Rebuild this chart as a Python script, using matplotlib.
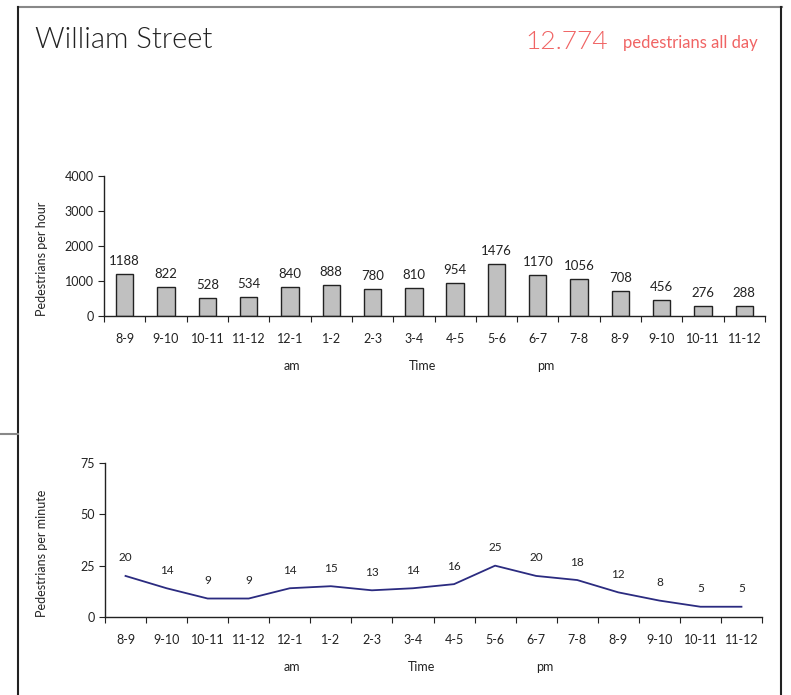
import matplotlib.pyplot as plt
from matplotlib.lines import Line2D

# hourly counts, William Street
hours = ['8-9', '9-10', '10-11', '11-12', '12-1', '1-2', '2-3', '3-4',
         '4-5', '5-6', '6-7', '7-8', '8-9', '9-10', '10-11', '11-12']
per_hour = [1188, 822, 528, 534, 840, 888, 780, 810,
            954, 1476, 1170, 1056, 708, 456, 276, 288]
per_minute = [20, 14, 9, 9, 14, 15, 13, 14,
              16, 25, 20, 18, 12, 8, 5, 5]
hour_ticks = [0, 1000, 2000, 3000, 4000]
minute_ticks = [0, 25, 50, 75]
total_label = '12.774'

plt.rcParams['font.family'] = ['Lato', 'DejaVu Sans']

W, H = 791, 695
fig = plt.figure(figsize=(W / 100, H / 100), dpi=100)

def px_axes(left, top, right, bottom):
    return fig.add_axes([left / W, 1 - bottom / H, (right - left) / W, (bottom - top) / H])

# frame around the panel
fig.add_artist(Line2D([18 / W, 782 / W], [1 - 7 / H, 1 - 7 / H], color='#888888', lw=1.5))
fig.add_artist(Line2D([18 / W, 18 / W], [1 - 7 / H, 0], color='#222222', lw=1.5))
fig.add_artist(Line2D([781 / W, 781 / W], [1 - 7 / H, 0], color='#222222', lw=1.5))
fig.add_artist(Line2D([0, 18 / W], [1 - 434 / H, 1 - 434 / H], color='#888888', lw=1.5))

red = '#f06464'
fig.text(35 / W, 1 - 40 / H, 'William Street', fontsize=21, color='#222222',
         fontweight=300, va='center', ha='left')
fig.text(758 / W, 1 - 43 / H, 'pedestrians all day', fontsize=12, color=red,
         va='center', ha='right')
fig.text(608 / W, 1 - 42 / H, total_label, fontsize=19, color=red,
         fontweight=300, va='center', ha='right')

n = len(hours)
x = list(range(n))


def style_axis(ax, yticks):
    for s in ['top', 'right']:
        ax.spines[s].set_visible(False)
    for s in ['left', 'bottom']:
        ax.spines[s].set_color('#222222')
        ax.spines[s].set_linewidth(1)
    ax.set_xlim(-0.5, n - 0.5)
    ax.set_xticks([i - 0.5 for i in range(n + 1)])
    ax.set_xticklabels([])
    ax.set_xticks(x, minor=True)
    ax.set_xticklabels(hours, minor=True)
    ax.tick_params(axis='x', which='major', direction='out', length=4, color='#222222')
    ax.tick_params(axis='x', which='minor', length=0, pad=12, labelsize=9, labelcolor='#222222')
    ax.set_yticks(yticks)
    ax.tick_params(axis='y', direction='out', length=4, labelsize=9, labelcolor='#222222',
                   color='#222222')


# bar chart: pedestrians per hour
ax1 = px_axes(104, 176, 765, 316)
ax1.bar(x, per_hour, width=0.42, color='#c0c0c0', edgecolor='#222222', linewidth=1)
ax1.set_ylim(0, 4000)
style_axis(ax1, hour_ticks)
for i, v in enumerate(per_hour):
    ax1.annotate(str(v), (i, v), xytext=(0, 5), textcoords='offset points',
                 ha='center', va='bottom', fontsize=9.5, color='#222222')
fig.text(42 / W, 1 - 259 / H, 'Pedestrians per hour', rotation=90, fontsize=9,
         color='#222222', ha='center', va='center')
for lbl, xpos in [('am', 4.05), ('Time', 7.2), ('pm', 10.2)]:
    ax1.text(xpos, -0.357, lbl, transform=ax1.get_xaxis_transform(), fontsize=9,
             color='#222222', ha='center', va='center')

# line chart: pedestrians per minute
ax2 = px_axes(105, 463, 762, 617)
ax2.plot(x, per_minute, color='#2b2b80', lw=1.3)
ax2.set_ylim(0, 75)
style_axis(ax2, minute_ticks)
for i, v in enumerate(per_minute):
    ax2.annotate(str(v), (i, v), xytext=(0, 9), textcoords='offset points',
                 ha='center', va='bottom', fontsize=8.5, color='#222222')
fig.text(42 / W, 1 - 553 / H, 'Pedestrians per minute', rotation=90, fontsize=9,
         color='#222222', ha='center', va='center')
for lbl, xpos in [('am', 4.05), ('Time', 7.2), ('pm', 10.2)]:
    ax2.text(xpos, -0.325, lbl, transform=ax2.get_xaxis_transform(), fontsize=9,
             color='#222222', ha='center', va='center')

fig.savefig('out.png', dpi=100)
